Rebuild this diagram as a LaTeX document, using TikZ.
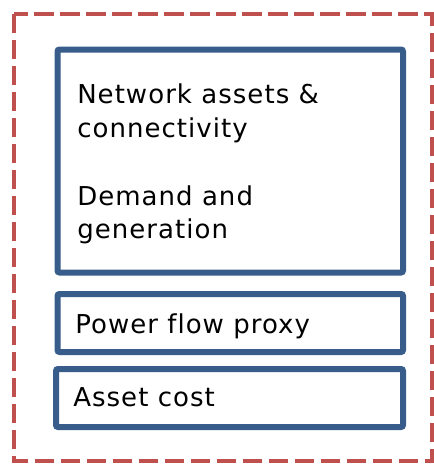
\documentclass[tikz,border=0pt]{standalone}
\usepackage{fontspec}
\setmainfont{DejaVu Sans}[LetterSpace=4,Ligatures=NoCommon]
\definecolor{outred}{HTML}{C0504D}
\definecolor{boxblue}{HTML}{385D8A}
\begin{document}
\begin{tikzpicture}[x=0.75pt,y=-0.75pt,
  outerbox/.style={draw=outred,line width=3pt,dash pattern=on 14.5pt off 5pt},
  boxnode/.style={draw=boxblue,fill=white,line width=4.5pt,rounded corners=1.5pt,
    outer sep=0pt,inner sep=0pt,anchor=north west},
  txt/.style={anchor=base west,inner sep=0pt,font=\fontsize{19.5pt}{25.5pt}\selectfont,text=black}]
\useasboundingbox (0,0) rectangle (434,464);
\draw[outerbox] (13.5,14) rectangle (431.5,461);
\node[boxnode,minimum width=345.5*0.75pt,minimum height=223*0.75pt] (b1) at (57.5,49.5) {};
\node[boxnode,minimum width=345.5*0.75pt,minimum height=58*0.75pt] (b2) at (57.5,294) {};
\node[boxnode,minimum width=347*0.75pt,minimum height=58*0.75pt] (b3) at (56,369) {};
\node[txt] (t1) at (77,103) {Network assets \&};
\node[txt] (t2) at (77,137) {connectivity};
\node[txt] (t3) at (77,205) {Demand and};
\node[txt] (t4) at (77,238) {generation};
\node[txt] (t5) at (75,333) {Power flow proxy};
\node[txt] (t6) at (73,406.5) {Asset cost};
\end{tikzpicture}
\end{document}
